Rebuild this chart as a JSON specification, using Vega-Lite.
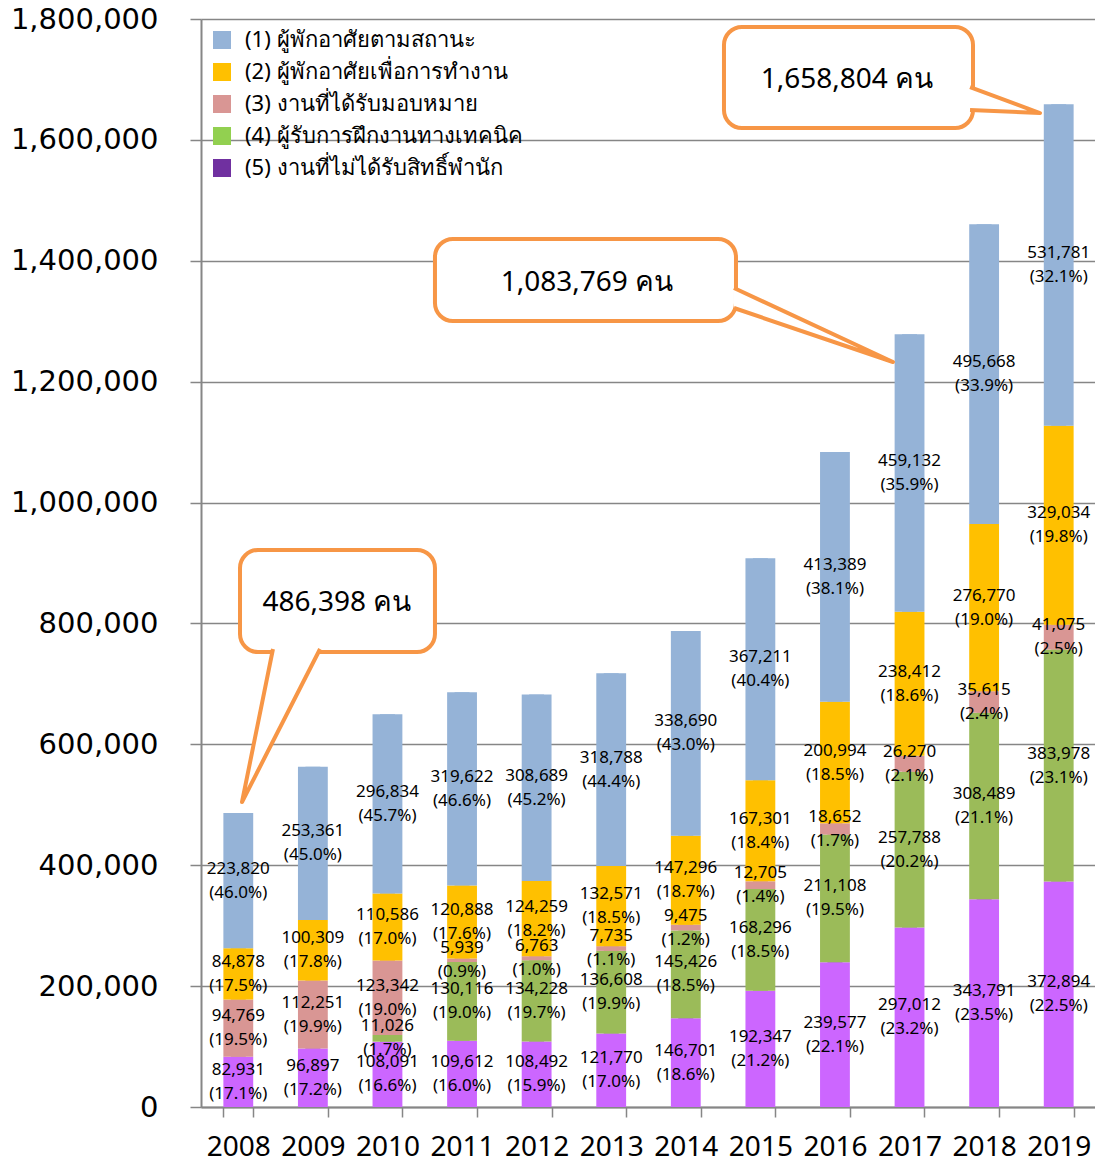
{
  "$schema": "https://vega.github.io/schema/vega-lite/v6.json",
  "width": 895,
  "height": 1088,
  "autosize": {"type": "none"},
  "padding": {"left": 201, "top": 19, "right": 0, "bottom": 55},
  "background": "white",
  "config": {"view": {"stroke": null}, "font": "Noto Sans"},
  "datasets": {
    "bars": [
      {"year": "2008", "cat": "(5) งานที่ไม่ได้รับสิทธิ์พำนัก", "value": 82931, "pct": "(17.1%)"},
      {"year": "2008", "cat": "(3) งานที่ได้รับมอบหมาย", "value": 94769, "pct": "(19.5%)"},
      {"year": "2008", "cat": "(2) ผู้พักอาศัยเพื่อการทำงาน", "value": 84878, "pct": "(17.5%)"},
      {"year": "2008", "cat": "(1) ผู้พักอาศัยตามสถานะ", "value": 223820, "pct": "(46.0%)"},
      {"year": "2009", "cat": "(5) งานที่ไม่ได้รับสิทธิ์พำนัก", "value": 96897, "pct": "(17.2%)"},
      {"year": "2009", "cat": "(3) งานที่ได้รับมอบหมาย", "value": 112251, "pct": "(19.9%)"},
      {"year": "2009", "cat": "(2) ผู้พักอาศัยเพื่อการทำงาน", "value": 100309, "pct": "(17.8%)"},
      {"year": "2009", "cat": "(1) ผู้พักอาศัยตามสถานะ", "value": 253361, "pct": "(45.0%)"},
      {"year": "2010", "cat": "(5) งานที่ไม่ได้รับสิทธิ์พำนัก", "value": 108091, "pct": "(16.6%)"},
      {"year": "2010", "cat": "(4) ผู้รับการฝึกงานทางเทคนิค", "value": 11026, "pct": "(1.7%)"},
      {"year": "2010", "cat": "(3) งานที่ได้รับมอบหมาย", "value": 123342, "pct": "(19.0%)"},
      {"year": "2010", "cat": "(2) ผู้พักอาศัยเพื่อการทำงาน", "value": 110586, "pct": "(17.0%)"},
      {"year": "2010", "cat": "(1) ผู้พักอาศัยตามสถานะ", "value": 296834, "pct": "(45.7%)"},
      {"year": "2011", "cat": "(5) งานที่ไม่ได้รับสิทธิ์พำนัก", "value": 109612, "pct": "(16.0%)"},
      {"year": "2011", "cat": "(4) ผู้รับการฝึกงานทางเทคนิค", "value": 130116, "pct": "(19.0%)"},
      {"year": "2011", "cat": "(3) งานที่ได้รับมอบหมาย", "value": 5939, "pct": "(0.9%)"},
      {"year": "2011", "cat": "(2) ผู้พักอาศัยเพื่อการทำงาน", "value": 120888, "pct": "(17.6%)"},
      {"year": "2011", "cat": "(1) ผู้พักอาศัยตามสถานะ", "value": 319622, "pct": "(46.6%)"},
      {"year": "2012", "cat": "(5) งานที่ไม่ได้รับสิทธิ์พำนัก", "value": 108492, "pct": "(15.9%)"},
      {"year": "2012", "cat": "(4) ผู้รับการฝึกงานทางเทคนิค", "value": 134228, "pct": "(19.7%)"},
      {"year": "2012", "cat": "(3) งานที่ได้รับมอบหมาย", "value": 6763, "pct": "(1.0%)"},
      {"year": "2012", "cat": "(2) ผู้พักอาศัยเพื่อการทำงาน", "value": 124259, "pct": "(18.2%)"},
      {"year": "2012", "cat": "(1) ผู้พักอาศัยตามสถานะ", "value": 308689, "pct": "(45.2%)"},
      {"year": "2013", "cat": "(5) งานที่ไม่ได้รับสิทธิ์พำนัก", "value": 121770, "pct": "(17.0%)"},
      {"year": "2013", "cat": "(4) ผู้รับการฝึกงานทางเทคนิค", "value": 136608, "pct": "(19.9%)"},
      {"year": "2013", "cat": "(3) งานที่ได้รับมอบหมาย", "value": 7735, "pct": "(1.1%)"},
      {"year": "2013", "cat": "(2) ผู้พักอาศัยเพื่อการทำงาน", "value": 132571, "pct": "(18.5%)"},
      {"year": "2013", "cat": "(1) ผู้พักอาศัยตามสถานะ", "value": 318788, "pct": "(44.4%)"},
      {"year": "2014", "cat": "(5) งานที่ไม่ได้รับสิทธิ์พำนัก", "value": 146701, "pct": "(18.6%)"},
      {"year": "2014", "cat": "(4) ผู้รับการฝึกงานทางเทคนิค", "value": 145426, "pct": "(18.5%)"},
      {"year": "2014", "cat": "(3) งานที่ได้รับมอบหมาย", "value": 9475, "pct": "(1.2%)"},
      {"year": "2014", "cat": "(2) ผู้พักอาศัยเพื่อการทำงาน", "value": 147296, "pct": "(18.7%)"},
      {"year": "2014", "cat": "(1) ผู้พักอาศัยตามสถานะ", "value": 338690, "pct": "(43.0%)"},
      {"year": "2015", "cat": "(5) งานที่ไม่ได้รับสิทธิ์พำนัก", "value": 192347, "pct": "(21.2%)"},
      {"year": "2015", "cat": "(4) ผู้รับการฝึกงานทางเทคนิค", "value": 168296, "pct": "(18.5%)"},
      {"year": "2015", "cat": "(3) งานที่ได้รับมอบหมาย", "value": 12705, "pct": "(1.4%)"},
      {"year": "2015", "cat": "(2) ผู้พักอาศัยเพื่อการทำงาน", "value": 167301, "pct": "(18.4%)"},
      {"year": "2015", "cat": "(1) ผู้พักอาศัยตามสถานะ", "value": 367211, "pct": "(40.4%)"},
      {"year": "2016", "cat": "(5) งานที่ไม่ได้รับสิทธิ์พำนัก", "value": 239577, "pct": "(22.1%)"},
      {"year": "2016", "cat": "(4) ผู้รับการฝึกงานทางเทคนิค", "value": 211108, "pct": "(19.5%)"},
      {"year": "2016", "cat": "(3) งานที่ได้รับมอบหมาย", "value": 18652, "pct": "(1.7%)"},
      {"year": "2016", "cat": "(2) ผู้พักอาศัยเพื่อการทำงาน", "value": 200994, "pct": "(18.5%)"},
      {"year": "2016", "cat": "(1) ผู้พักอาศัยตามสถานะ", "value": 413389, "pct": "(38.1%)"},
      {"year": "2017", "cat": "(5) งานที่ไม่ได้รับสิทธิ์พำนัก", "value": 297012, "pct": "(23.2%)"},
      {"year": "2017", "cat": "(4) ผู้รับการฝึกงานทางเทคนิค", "value": 257788, "pct": "(20.2%)"},
      {"year": "2017", "cat": "(3) งานที่ได้รับมอบหมาย", "value": 26270, "pct": "(2.1%)"},
      {"year": "2017", "cat": "(2) ผู้พักอาศัยเพื่อการทำงาน", "value": 238412, "pct": "(18.6%)"},
      {"year": "2017", "cat": "(1) ผู้พักอาศัยตามสถานะ", "value": 459132, "pct": "(35.9%)"},
      {"year": "2018", "cat": "(5) งานที่ไม่ได้รับสิทธิ์พำนัก", "value": 343791, "pct": "(23.5%)"},
      {"year": "2018", "cat": "(4) ผู้รับการฝึกงานทางเทคนิค", "value": 308489, "pct": "(21.1%)"},
      {"year": "2018", "cat": "(3) งานที่ได้รับมอบหมาย", "value": 35615, "pct": "(2.4%)"},
      {"year": "2018", "cat": "(2) ผู้พักอาศัยเพื่อการทำงาน", "value": 276770, "pct": "(19.0%)"},
      {"year": "2018", "cat": "(1) ผู้พักอาศัยตามสถานะ", "value": 495668, "pct": "(33.9%)"},
      {"year": "2019", "cat": "(5) งานที่ไม่ได้รับสิทธิ์พำนัก", "value": 372894, "pct": "(22.5%)"},
      {"year": "2019", "cat": "(4) ผู้รับการฝึกงานทางเทคนิค", "value": 383978, "pct": "(23.1%)"},
      {"year": "2019", "cat": "(3) งานที่ได้รับมอบหมาย", "value": 41075, "pct": "(2.5%)"},
      {"year": "2019", "cat": "(2) ผู้พักอาศัยเพื่อการทำงาน", "value": 329034, "pct": "(19.8%)"},
      {"year": "2019", "cat": "(1) ผู้พักอาศัยตามสถานะ", "value": 531781, "pct": "(32.1%)"}
    ],
    "boxes": [
      {"id": 1, "x1": 2008.023, "x2": 2010.637, "y1": 921506, "y2": 752757, "tx": 2009.323, "ty": 833823, "label": "486,398 คน"},
      {"id": 2, "x1": 2010.637, "x2": 2014.673, "y1": 1436028, "y2": 1300366, "tx": 2012.675, "ty": 1363234, "label": "1,083,769 คน"},
      {"id": 3, "x1": 2014.512, "x2": 2017.851, "y1": 1786763, "y2": 1619667, "tx": 2016.161, "ty": 1699079, "label": "1,658,804 คน"}
    ],
    "tails": [
      {"id": 1, "seq": 1, "x": 2008.465, "y": 757720},
      {"id": 1, "seq": 2, "x": 2008.05, "y": 504595},
      {"id": 1, "seq": 3, "x": 2009.096, "y": 757720},
      {"id": 2, "seq": 1, "x": 2014.646, "y": 1354962},
      {"id": 2, "seq": 2, "x": 2016.778, "y": 1232535},
      {"id": 2, "seq": 3, "x": 2014.646, "y": 1321874},
      {"id": 3, "seq": 1, "x": 2017.811, "y": 1687498},
      {"id": 3, "seq": 2, "x": 2018.749, "y": 1644484},
      {"id": 3, "seq": 3, "x": 2017.811, "y": 1649447}
    ],
    "tailfillDown": [
      {"id": 1, "y": 757720, "xa": 2008.465, "xb": 2009.096},
      {"id": 1, "y": 504595, "xa": 2008.05, "xb": 2008.05}
    ],
    "tailfillSide": [
      {"id": 2, "x": 2014.646, "ya": 1354962, "yb": 1321874},
      {"id": 2, "x": 2016.778, "ya": 1232535, "yb": 1232535},
      {"id": 3, "x": 2017.811, "ya": 1687498, "yb": 1649447},
      {"id": 3, "x": 2018.749, "ya": 1644484, "yb": 1644484}
    ]
  },
  "layer": [
    {
      "data": {"name": "bars"},
      "encoding": {
        "x": {
          "field": "year", "type": "ordinal",
          "scale": {"paddingInner": 0.6, "paddingOuter": 0.3},
          "axis": {
            "title": null, "labelAngle": 0, "labelFontSize": 28, "labelColor": "black",
            "labelPadding": 16, "tickBand": "extent", "tickSize": 10, "tickColor": "#868686",
            "tickWidth": 1.5, "domainColor": "#868686", "domainWidth": 2, "grid": false
          }
        },
        "y": {
          "field": "value", "type": "quantitative", "stack": "zero",
          "scale": {"domain": [0, 1800000], "nice": false},
          "axis": {
            "title": null,
            "values": [0, 200000, 400000, 600000, 800000, 1000000, 1200000, 1400000, 1600000, 1800000],
            "format": ",.0f", "labelFont": "DejaVu Sans", "labelFontSize": 29, "labelColor": "black",
            "labelPadding": 32, "tickSize": 11, "tickColor": "#868686", "tickWidth": 1.5,
            "domainColor": "#868686", "domainWidth": 2, "grid": true, "gridColor": "#868686",
            "gridWidth": 1.5, "labelFlush": false, "labelOverlap": false
          }
        },
        "order": {"field": "cat", "type": "ordinal", "sort": "descending"}
      },
      "layer": [
        {
          "mark": {"type": "bar", "width": {"band": 0.5}},
          "encoding": {
            "fill": {
              "field": "cat", "type": "nominal",
              "scale": {
                "domain": ["(1) ผู้พักอาศัยตามสถานะ", "(2) ผู้พักอาศัยเพื่อการทำงาน", "(3) งานที่ได้รับมอบหมาย", "(4) ผู้รับการฝึกงานทางเทคนิค", "(5) งานที่ไม่ได้รับสิทธิ์พำนัก"],
                "range": ["#95B3D7", "#FFC000", "#D99694", "#92D050", "#7030A0"]
              },
              "legend": {
                "title": null, "orient": "top-left", "offset": 10, "padding": 0,
                "symbolType": "square", "symbolSize": 324, "symbolStrokeWidth": 0,
                "labelFontSize": 22, "labelColor": "black", "labelOffset": 12,
                "rowPadding": 10, "labelLimit": 500
              }
            }
          }
        },
        {
          "mark": {"type": "bar"},
          "encoding": {
            "color": {
              "field": "cat", "type": "nominal",
              "scale": {
                "domain": ["(1) ผู้พักอาศัยตามสถานะ", "(2) ผู้พักอาศัยเพื่อการทำงาน", "(3) งานที่ได้รับมอบหมาย", "(4) ผู้รับการฝึกงานทางเทคนิค", "(5) งานที่ไม่ได้รับสิทธิ์พำนัก"],
                "range": ["#95B3D7", "#FFC000", "#D99694", "#9BBB59", "#CC66FF"]
              },
              "legend": null
            }
          }
        },
        {
          "mark": {"type": "text", "dy": -12, "fontSize": 17, "color": "black"},
          "encoding": {
            "y": {"field": "value", "type": "quantitative", "stack": "zero", "bandPosition": 0.5},
            "text": {"field": "value", "type": "quantitative", "format": ","}
          }
        },
        {
          "mark": {"type": "text", "dy": 12, "fontSize": 17, "color": "black"},
          "encoding": {
            "y": {"field": "value", "type": "quantitative", "stack": "zero", "bandPosition": 0.5},
            "text": {"field": "pct", "type": "nominal"}
          }
        }
      ]
    },
    {
      "layer": [
        {
          "data": {"name": "boxes"},
          "mark": {"type": "rect", "fill": "white", "stroke": "#F79646", "strokeWidth": 4, "cornerRadius": 18},
          "encoding": {
            "x": {"field": "x1", "type": "quantitative", "scale": {"domain": [2007.5, 2019.5], "nice": false, "zero": false}, "axis": null},
            "x2": {"field": "x2"},
            "y": {"field": "y1", "type": "quantitative"},
            "y2": {"field": "y2"}
          }
        },
        {
          "data": {"name": "tailfillDown"},
          "mark": {"type": "area", "orient": "horizontal", "fill": "white"},
          "encoding": {
            "y": {"field": "y", "type": "quantitative"},
            "x": {"field": "xa", "type": "quantitative", "scale": {"domain": [2007.5, 2019.5], "nice": false, "zero": false}, "axis": null},
            "x2": {"field": "xb"}
          }
        },
        {
          "data": {"name": "tailfillSide"},
          "mark": {"type": "area", "orient": "vertical", "fill": "white"},
          "encoding": {
            "x": {"field": "x", "type": "quantitative", "scale": {"domain": [2007.5, 2019.5], "nice": false, "zero": false}, "axis": null},
            "y": {"field": "ya", "type": "quantitative"},
            "y2": {"field": "yb"},
            "detail": {"field": "id", "type": "nominal"}
          }
        },
        {
          "data": {"name": "tails"},
          "mark": {"type": "line", "stroke": "#F79646", "strokeWidth": 4, "strokeJoin": "round"},
          "encoding": {
            "x": {"field": "x", "type": "quantitative", "scale": {"domain": [2007.5, 2019.5], "nice": false, "zero": false}, "axis": null},
            "y": {"field": "y", "type": "quantitative"},
            "detail": {"field": "id", "type": "nominal"},
            "order": {"field": "seq", "type": "quantitative"}
          }
        },
        {
          "data": {"name": "boxes"},
          "mark": {"type": "text", "fontSize": 28, "color": "black"},
          "encoding": {
            "x": {"field": "tx", "type": "quantitative", "scale": {"domain": [2007.5, 2019.5], "nice": false, "zero": false}, "axis": null},
            "y": {"field": "ty", "type": "quantitative"},
            "text": {"field": "label", "type": "nominal"}
          }
        }
      ]
    }
  ],
  "resolve": {"scale": {"x": "independent"}}
}
